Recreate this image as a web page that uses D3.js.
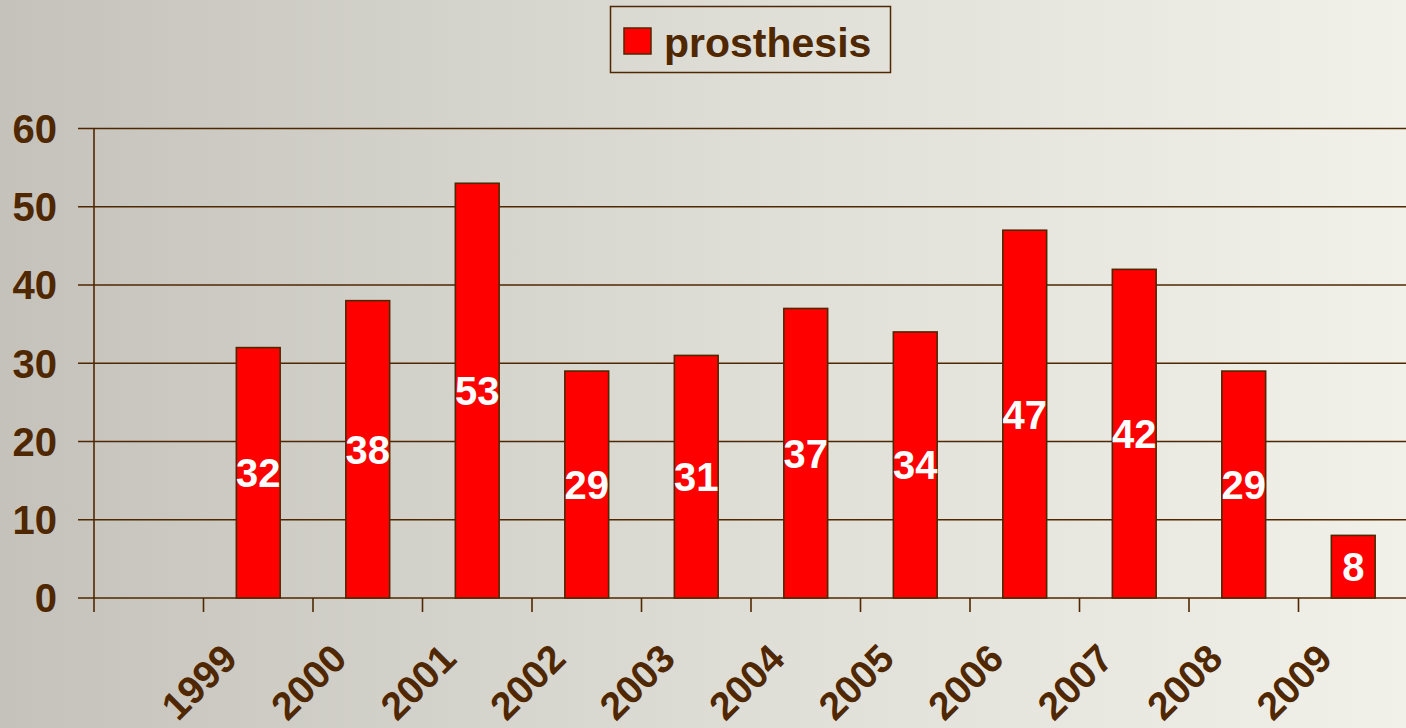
<!DOCTYPE html>
<html>
<head>
<meta charset="utf-8">
<script src="https://cdn.jsdelivr.net/npm/d3@7"></script>
<style>
  body { margin: 0; overflow: hidden; }
  svg { display: block; font-family: "Liberation Sans", Arial, sans-serif; }
</style>
</head>
<body>
<svg id="chart"></svg>
<script>
// data
var years = ["1999", "2000", "2001", "2002", "2003", "2004", "2005", "2006", "2007", "2008", "2009"];
var counts = [32, 38, 53, 29, 31, 37, 34, 47, 42, 29, 8];
var yTicks = [0, 10, 20, 30, 40, 50, 60];
var seriesName = "prosthesis";

var dimensions = {
    width: 1406,
    height: 728,
    margin: { top: 128.5, bottom: 130, right: -2, left: 94 }
};
var brown = "#4f2700";

var svg = d3.select("#chart")
    .attr("width", dimensions.width)
    .attr("height", dimensions.height);

// background gradient
var grad = svg.append("defs").append("linearGradient")
    .attr("id", "bg")
    .attr("x1", "0%").attr("x2", "100%").attr("y1", "0%").attr("y2", "0%");
grad.append("stop").attr("offset", "0%").attr("stop-color", "#c4c2ba");
grad.append("stop").attr("offset", "55%").attr("stop-color", "#e0dfd7");
grad.append("stop").attr("offset", "100%").attr("stop-color", "#f1f0e9");

svg.append("rect")
    .attr("width", dimensions.width)
    .attr("height", dimensions.height)
    .attr("fill", "url(#bg)");

var data = years.map((y, i) => ({ year: y, count: counts[i] }));

// first slot is an empty category, as in the original
var xScale = d3.scaleBand()
    .domain([""].concat(years))
    .range([dimensions.margin.left, dimensions.width - dimensions.margin.right])
    .paddingInner(0.6)
    .paddingOuter(0.3);

var step = xScale.step();

var yScale = d3.scaleLinear()
    .domain([0, 60])
    .range([dimensions.height - dimensions.margin.bottom, dimensions.margin.top]);

// gridlines
svg.append("g")
    .selectAll("line")
    .data(yTicks)
    .enter()
    .append("line")
    .attr("x1", dimensions.margin.left - 16)
    .attr("x2", dimensions.width)
    .attr("y1", d => yScale(d))
    .attr("y2", d => yScale(d))
    .attr("stroke", brown)
    .attr("stroke-width", 1.6);

// y axis line
svg.append("line")
    .attr("x1", dimensions.margin.left)
    .attr("x2", dimensions.margin.left)
    .attr("y1", yScale(60))
    .attr("y2", yScale(0) + 14)
    .attr("stroke", brown)
    .attr("stroke-width", 1.6);

// y labels
svg.append("g")
    .selectAll("text")
    .data(yTicks)
    .enter()
    .append("text")
    .attr("x", 57)
    .attr("y", d => yScale(d))
    .attr("dy", "0.36em")
    .attr("text-anchor", "end")
    .attr("fill", brown)
    .style("font-size", "40px")
    .style("font-weight", "bold")
    .text(d => d);

// x tick marks between categories
var xTickPos = [""].concat(years).map(d => xScale(d) - xScale.paddingInner() * step / 2);
svg.append("g")
    .selectAll("line")
    .data(xTickPos.slice(1))
    .enter()
    .append("line")
    .attr("x1", d => d)
    .attr("x2", d => d)
    .attr("y1", yScale(0))
    .attr("y2", yScale(0) + 14)
    .attr("stroke", brown)
    .attr("stroke-width", 1.6);

// bars
svg.append("g")
    .selectAll("rect")
    .data(data)
    .enter()
    .append("rect")
    .attr("x", d => xScale(d.year))
    .attr("y", d => yScale(d.count))
    .attr("width", xScale.bandwidth())
    .attr("height", d => yScale(0) - yScale(d.count))
    .attr("fill", "#ff0000")
    .attr("stroke", brown)
    .attr("stroke-width", 1.6);

// value labels
svg.append("g")
    .selectAll("text")
    .data(data)
    .enter()
    .append("text")
    .attr("x", d => xScale(d.year) + xScale.bandwidth() / 2)
    .attr("y", d => (yScale(d.count) + yScale(0)) / 2)
    .attr("dy", "0.36em")
    .attr("text-anchor", "middle")
    .attr("fill", "white")
    .style("font-size", "40px")
    .style("font-weight", "bold")
    .text(d => d.count);

// x labels, rotated
svg.append("g")
    .selectAll("text")
    .data(years)
    .enter()
    .append("text")
    .attr("transform", d => `translate(${xScale(d) + xScale.bandwidth() / 2 - 19}, 661) rotate(-45)`)
    .attr("text-anchor", "end")
    .attr("fill", brown)
    .style("font-size", "39px")
    .style("font-weight", "bold")
    .text(d => d);

// legend
var legend = svg.append("g");
legend.append("rect")
    .attr("x", 610.5)
    .attr("y", 6.5)
    .attr("width", 280)
    .attr("height", 66)
    .attr("fill", "none")
    .attr("stroke", brown)
    .attr("stroke-width", 1.5);
legend.append("rect")
    .attr("x", 624)
    .attr("y", 28)
    .attr("width", 27)
    .attr("height", 26)
    .attr("fill", "#ff0000")
    .attr("stroke", brown)
    .attr("stroke-width", 1.5);
legend.append("text")
    .attr("x", 664)
    .attr("y", 57)
    .attr("fill", brown)
    .style("font-size", "41px")
    .style("font-weight", "bold")
    .text(seriesName);
</script>
</body>
</html>
